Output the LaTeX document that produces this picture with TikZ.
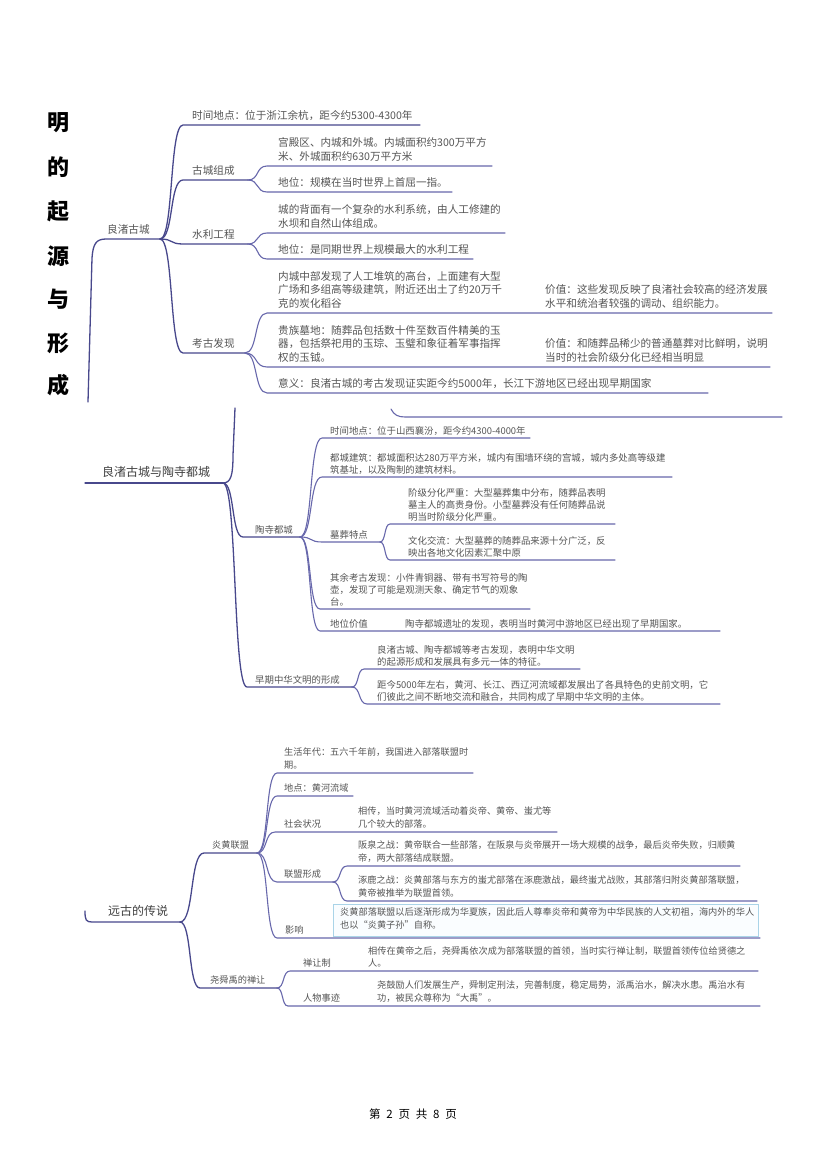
\documentclass[tikz,border=0pt]{standalone}
\usepackage{fontspec}
\setmainfont{Noto Sans CJK SC}
\usetikzlibrary{calc}
\definecolor{linec}{RGB}{104,104,172}
\definecolor{rootc}{RGB}{72,72,140}
\definecolor{txtc}{RGB}{85,85,85}
\definecolor{boxc}{RGB}{170,212,232}
\definecolor{boxfill}{RGB}{250,253,255}
\newcommand{\mm}[7]{\coordinate (#1s) at (#2,#4); \coordinate (#1e) at (#3,#4); \node[#6] (#1) at (#5,#4) {#7};}
\newcommand{\mmlink}[3][link]{\draw[#1] (#2e) .. controls ($(#2e)!0.6!(#2e -| #3s)$) and ($(#3s)!0.6!(#3s -| #2e)$) .. (#3s) -- (#3e);}
\begin{document}
\begin{tikzpicture}[x=1pt,y=-1pt,
  link/.style={draw=linec, line width=1.1pt, line cap=round},
  rootl/.style={draw=rootc, line width=1.3pt, line cap=round},
  ta/.style={anchor=south west, inner sep=0pt, align=left, text=txtc, yshift=4.5pt, font=\fontsize{10.6}{13.5}\selectfont},
  tb/.style={anchor=south west, inner sep=0pt, align=left, text=txtc, yshift=2.5pt, font=\fontsize{9.4}{12.2}\selectfont},
  tc/.style={anchor=south west, inner sep=0pt, align=left, text=txtc, yshift=3.5pt, font=\fontsize{9.2}{12.6}\selectfont},
  tsec/.style={anchor=south west, inner sep=0pt, align=left, text=black!75, yshift=5pt, font=\fontsize{12}{14}\selectfont},
  tcol/.style={inner sep=0pt, text=black, font=\fontsize{22}{22}\selectfont\bfseries}]
\fill[white] (0,0) rectangle (827,1169);
\useasboundingbox (0,0) rectangle (827,1169);

% ---------- title column ----------
\node[tcol] (c1) at (58,123) {明};
\node[tcol] (c2) at (58,167) {的};
\node[tcol] (c3) at (58,211) {起};
\node[tcol] (c4) at (58,256) {源};
\node[tcol] (c5) at (58,299) {与};
\node[tcol] (c6) at (58,343) {形};
\node[tcol] (c7) at (58,385) {成};

% ---------- section 1 ----------
\coordinate (R1b) at (88,402);
\mm{R1}{106}{160}{239}{107}{ta}{良渚古城}
\draw[rootl] (R1b) -- (92,258) .. controls (93,244) and (96,239) .. (R1s) -- (R1e);

\mm{A1}{183}{420}{125}{192}{ta}{时间地点：位于浙江余杭，距今约5300-4300年}
\mm{A2}{183}{248}{180}{192}{ta}{古城组成}
\mm{A3}{183}{248}{244}{192}{ta}{水利工程}
\mm{A4}{183}{245}{353}{192}{ta}{考古发现}
\mmlink[rootl]{R1}{A1}
\mmlink[rootl]{R1}{A2}
\mmlink[rootl]{R1}{A3}
\mmlink[rootl]{R1}{A4}

\mm{B1}{267}{492}{166}{278}{ta}{宫殿区、内城和外城。内城面积约300万平方\\米、外城面积约630万平方米}
\mm{B2}{267}{452}{192}{278}{ta}{地位：规模在当时世界上首屈一指。}
\mm{B3}{267}{505}{233}{278}{ta}{城的背面有一个复杂的水利系统，由人工修建的\\水坝和自然山体组成。}
\mm{B4}{267}{473}{259}{278}{ta}{地位：是同期世界上规模最大的水利工程}
\mm{B5}{267}{772}{313}{278}{ta}{内城中部发现了人工堆筑的高台，上面建有大型\\广场和多组高等级建筑，附近还出土了约20万千\\克的炭化稻谷}
\mm{B6}{267}{770}{367}{278}{ta}{贵族墓地：随葬品包括数十件至数百件精美的玉\\器，包括祭祀用的玉琮、玉璧和象征着军事指挥\\权的玉钺。}
\mm{B7}{267}{708}{393}{278}{ta}{意义：良渚古城的考古发现证实距今约5000年，长江下游地区已经出现早期国家}
\mmlink{A2}{B1}
\mmlink{A2}{B2}
\mmlink{A3}{B3}
\mmlink{A3}{B4}
\mmlink{A4}{B5}
\mmlink{A4}{B6}
\mmlink{A4}{B7}
\node[ta] (V1) at (545,313) {价值：这些发现反映了良渚社会较高的经济发展\\水平和统治者较强的调动、组织能力。};
\node[ta] (V2) at (545,367) {价值：和随葬品稀少的普通墓葬对比鲜明，说明\\当时的社会阶级分化已经相当明显};

% fragment line
\coordinate (F1a) at (391,409);
\coordinate (F1b) at (405,417);
\coordinate (F1c) at (782,417);
\draw[link] (F1a) .. controls (394,415) and (398,417) .. (F1b) -- (F1c);

% ---------- section 2 ----------
\mm{R2}{85}{223}{483}{102}{tsec}{良渚古城与陶寺都城}
\draw[rootl] (R2s) -- (R2e);
\coordinate (F2) at (235,408);
\draw[rootl] (R2e) .. controls (231,483) and (233,475) .. (233,455) -- (F2);

\mm{C1}{243}{300}{537}{255}{tb}{陶寺都城}
\mm{C2}{247}{352}{687}{255}{tb}{早期中华文明的形成}
\mmlink[rootl]{R2}{C1}
\mmlink[rootl]{R2}{C2}

\mm{D1}{322}{530}{438}{330}{tb}{时间地点：位于山西襄汾，距今约4300-4000年}
\mm{D2}{322}{672}{477}{330}{tb}{都城建筑：都城面积达280万平方米，城内有围墙环绕的宫城，城内多处高等级建\\筑基址，以及陶制的建筑材料。}
\mm{D3}{322}{380}{542}{330}{tb}{墓葬特点}
\mm{D4}{320}{530}{609}{330}{tb}{其余考古发现：小件青铜器、带有书写符号的陶\\壶，发现了可能是观测天象、确定节气的观象\\台。}
\mm{D5}{320}{720}{631}{330}{tb}{地位价值}
\node[tb] (D5b) at (405,631) {陶寺都城遗址的发现，表明当时黄河中游地区已经出现了早期国家。};
\mmlink{C1}{D1}
\mmlink{C1}{D2}
\mmlink{C1}{D3}
\mmlink{C1}{D4}
\mmlink{C1}{D5}

\mm{E1}{390}{615}{524}{408}{tb}{阶级分化严重：大型墓葬集中分布，随葬品表明\\墓主人的高贵身份。小型墓葬没有任何随葬品说\\明当时阶级分化严重。}
\mm{E2}{390}{615}{560}{408}{tb}{文化交流：大型墓葬的随葬品来源十分广泛，反\\映出各地文化因素汇聚中原}
\mmlink{D3}{E1}
\mmlink{D3}{E2}

\mm{G1}{364}{580}{669}{377}{tb}{良渚古城、陶寺都城等考古发现，表明中华文明\\的起源形成和发展具有多元一体的特征。}
\mm{G2}{367}{720}{704}{377}{tb}{距今5000年左右，黄河、长江、西辽河流域都发展出了各具特色的史前文明，它\\们彼此之间不断地交流和融合，共同构成了早期中华文明的主体。}
\mmlink{C2}{G1}
\mmlink{C2}{G2}

% ---------- section 3 ----------
\mm{R3}{92}{180}{922}{108}{tsec}{远古的传说}
\coordinate (R3t) at (85,911);
\draw[rootl] (R3t) .. controls (85,920) and (86,922) .. (R3s) -- (R3e);

\mm{H1}{204}{257}{853}{212}{tc}{炎黄联盟}
\mm{H2}{200}{277}{988}{210}{tc}{尧舜禹的禅让}
\mmlink[rootl]{R3}{H1}
\mmlink[rootl]{R3}{H2}

\mm{I1}{277}{473}{773}{284}{tc}{生活年代：五六千年前，我国进入部落联盟时\\期。}
\mm{I2}{277}{353}{796}{284}{tc}{地点：黄河流域}
\mm{I3}{275}{557}{832}{284}{tc}{社会状况}
\node[tc] (I3b) at (358,832) {相传，当时黄河流域活动着炎帝、黄帝、蚩尤等\\几个较大的部落。};
\mm{I4}{277}{333}{882}{284}{tc}{联盟形成}
\node[draw=boxc, fill=boxfill, line width=0.8pt, inner sep=0pt, minimum width=425pt, minimum height=32pt, anchor=north west] (I5box) at (333,904) {};
\mm{I5}{277}{760}{938}{285}{tc}{影响}
\node[tc, anchor=north west, yshift=0pt] (I5b) at (340,911) {炎黄部落联盟以后逐渐形成为华夏族，因此后人尊奉炎帝和黄帝为中华民族的人文初祖，海内外的华人\\也以“炎黄子孙”自称。};
\mmlink{H1}{I1}
\mmlink{H1}{I2}
\mmlink{H1}{I3}
\mmlink{H1}{I4}
\mmlink{H1}{I5}

\mm{J1}{347}{740}{866}{358}{tc}{阪泉之战：黄帝联合一些部落，在阪泉与炎帝展开一场大规模的战争，最后炎帝失败，归顺黄\\帝，两大部落结成联盟。}
\mm{J2}{347}{757}{901}{358}{tc}{涿鹿之战：炎黄部落与东方的蚩尤部落在涿鹿激战，最终蚩尤战败，其部落归附炎黄部落联盟，\\黄帝被推举为联盟首领。}
\mmlink{I4}{J1}
\mmlink{I4}{J2}

\mm{K1}{290}{758}{971}{303}{tc}{禅让制}
\node[tc] (K1b) at (368,971) {相传在黄帝之后，尧舜禹依次成为部落联盟的首领，当时实行禅让制，联盟首领传位给贤德之\\人。};
\mm{K2}{288}{760}{1006}{303}{tc}{人物事迹}
\node[tc] (K2b) at (377,1006) {尧鼓励人们发展生产，舜制定刑法，完善制度，稳定局势，派禹治水，解决水患。禹治水有\\功，被民众尊称为“大禹”。};
\mmlink{H2}{K1}
\mmlink{H2}{K2}

% ---------- footer ----------
\node[inner sep=0pt, font=\fontsize{11.5}{13}\selectfont] (foot) at (413,1114) {第\hspace{0.5em}2\hspace{0.5em}页\hspace{0.5em}共\hspace{0.5em}8\hspace{0.5em}页};
\end{tikzpicture}
\end{document}
